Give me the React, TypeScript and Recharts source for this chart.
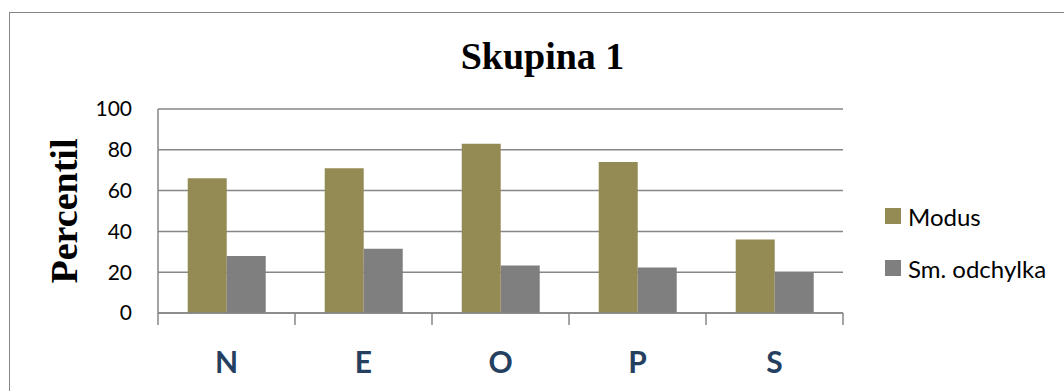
import React from "react";
import { BarChart, Bar, XAxis, YAxis, CartesianGrid } from "recharts";

const categories = ["N", "E", "O", "P", "S"];
const modus = [66, 71, 83, 74, 36];
const smOdchylka = [28, 31.5, 23.3, 22.3, 20];
const yTicks = [0, 20, 40, 60, 80, 100];

const data = categories.map((name, i) => ({
  name,
  modus: modus[i],
  odchylka: smOdchylka[i],
}));

const OLIVE = "#948A54";
const GRAY = "#7F7F7F";
const LINE = "#868686";

const series = [
  { key: "modus", label: "Modus", color: OLIVE },
  { key: "odchylka", label: "Sm. odchylka", color: GRAY },
];

// category label plus the Excel-style tick marks between categories
const CategoryTick = (props: any) => {
  const { x, y, payload, index, visibleTicksCount, width } = props;
  const half =
    payload && payload.offset ? payload.offset : width / visibleTicksCount / 2;
  return (
    <g>
      <line x1={x - half} y1={y} x2={x - half} y2={y + 12} stroke={LINE} strokeWidth={1.5} />
      {index === visibleTicksCount - 1 && (
        <line x1={x + half} y1={y} x2={x + half} y2={y + 12} stroke={LINE} strokeWidth={1.5} />
      )}
      <text
        x={x}
        y={y + 60}
        textAnchor="middle"
        fill="#243F60"
        fontFamily="Lato"
        fontWeight={700}
        fontSize={30}
      >
        {payload.value}
      </text>
    </g>
  );
};

const PercentilLabel = (props: any) => {
  const { viewBox } = props;
  const cy = viewBox.y + viewBox.height / 2;
  const x = 77;
  return (
    <text
      x={x}
      y={cy}
      textAnchor="middle"
      transform={`rotate(-90, ${x}, ${cy})`}
      fontFamily="Liberation Serif"
      fontWeight={700}
      fontSize={38}
      fill="#000"
    >
      Percentil
    </text>
  );
};

const SeriesLegend = () => (
  <div style={{ position: "absolute", left: 885, top: 190 }}>
    {series.map((s) => (
      <div key={s.key} style={{ display: "flex", alignItems: "center", height: 52 }}>
        <span
          style={{
            display: "inline-block",
            width: 16,
            height: 16,
            background: s.color,
            marginRight: 7,
          }}
        />
        <span style={{ fontFamily: "Lato", fontSize: 24, color: "#000" }}>{s.label}</span>
      </div>
    ))}
  </div>
);

export default function App() {
  return (
    <div
      style={{
        position: "absolute",
        left: 0,
        top: 0,
        width: 1064,
        height: 391,
        overflow: "hidden",
        background: "#fff",
      }}
    >
      <div
        style={{
          position: "absolute",
          left: 9,
          top: 12,
          width: 1100,
          height: 420,
          border: "1.5px solid #868686",
        }}
      />
      <div
        style={{
          position: "absolute",
          left: 0,
          top: 37,
          width: 1085,
          textAlign: "center",
          fontFamily: "Liberation Serif",
          fontWeight: 700,
          fontSize: 38,
          lineHeight: "38px",
        }}
      >
        Skupina 1
      </div>
      <div style={{ position: "absolute", left: 0, top: 0 }}>
        <BarChart
          width={1064}
          height={391}
          data={data}
          margin={{ top: 109, right: 221, bottom: 0, left: 0 }}
          barCategoryGap="21.7%"
          barGap={0}
        >
          <CartesianGrid vertical={false} stroke={LINE} strokeWidth={1.5} />
          <XAxis
            dataKey="name"
            height={78}
            axisLine={{ stroke: LINE, strokeWidth: 1.5 }}
            tickLine={false}
            tickSize={0}
            tickMargin={0}
            interval={0}
            tick={<CategoryTick />}
          />
          <YAxis
            width={158}
            domain={[0, 100]}
            ticks={yTicks}
            interval={0}
            axisLine={{ stroke: LINE, strokeWidth: 1.5 }}
            tickLine={false}
            tickSize={0}
            tickMargin={26}
            tick={{ fontFamily: "Lato", fontSize: 21, fill: "#000" }}
            label={<PercentilLabel />}
          />
          {series.map((s) => (
            <Bar
              key={s.key}
              dataKey={s.key}
              name={s.label}
              fill={s.color}
              isAnimationActive={false}
            />
          ))}
        </BarChart>
      </div>
      <SeriesLegend />
    </div>
  );
}
